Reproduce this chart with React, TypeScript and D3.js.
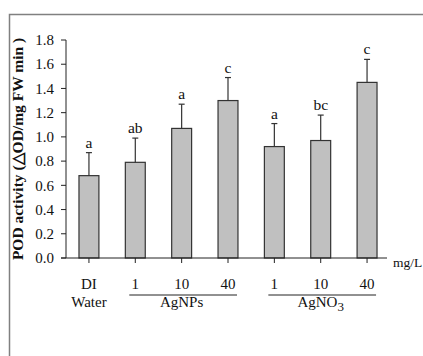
import * as d3 from "d3";

// data
const categories = ["DI", "NP1", "NP10", "NP40", "NO1", "NO10", "NO40"];
const tickLabels = ["DI", "1", "10", "40", "1", "10", "40"];
const values = [0.68, 0.79, 1.07, 1.3, 0.92, 0.97, 1.45];
const errors = [0.19, 0.2, 0.2, 0.19, 0.19, 0.21, 0.19];
const letters = ["a", "ab", "a", "c", "a", "bc", "c"];
const yTicks = [0, 0.2, 0.4, 0.6, 0.8, 1.0, 1.2, 1.4, 1.6, 1.8];

const font = "'Liberation Serif', 'Times New Roman', serif";

const App = () => {
  const width = 423;
  const height = 356;
  const left = 66;
  const right = 390;
  const top = 40;
  const bottom = 258;

  const x = d3.scaleBand().domain(categories).range([left, right]).paddingInner(0.57).paddingOuter(0.28);
  const y = d3.scaleLinear().domain([0, 1.8]).range([bottom, top]);
  const bw = x.bandwidth();
  const cx = (c: string) => (x(c) as number) + bw / 2;

  const groups = [
    { name: "AgNPs", items: ["NP1", "NP10", "NP40"] },
    { name: "AgNO", sub: "3", items: ["NO1", "NO10", "NO40"] },
  ];

  return (
    <svg width={width} height={height} style={{ position: "absolute", left: 0, top: 0 }}>
      <rect width={width} height={height} fill="white" />
      {/* frame */}
      <path d={`M9.5,${height} V14.5 H${width}`} fill="none" stroke="#808080" strokeWidth={1.5} />

      {/* y axis */}
      <line x1={left} x2={left} y1={y(1.8)} y2={bottom} stroke="#222" />
      {yTicks.map((t) => (
        <g key={t} transform={`translate(0,${y(t)})`}>
          <line x1={left - 5} x2={left} stroke="#222" />
          <text x={left - 12} dy="0.35em" textAnchor="end" fontFamily={font} fontSize={15} fill="#111">
            {d3.format(".1f")(t)}
          </text>
        </g>
      ))}
      <text
        transform={`translate(23,${(top + bottom) / 2 + 0}) rotate(-90)`}
        textAnchor="middle"
        fontFamily={font}
        fontSize={15.5}
        fontWeight="bold"
        fill="#111"
      >
        POD activity (△OD/mg FW min )
      </text>

      {/* bars */}
      {categories.map((c, i) => (
        <g key={c}>
          <rect x={x(c)} y={y(values[i])} width={bw} height={bottom - y(values[i])} fill="#c0c0c0" stroke="#333" strokeWidth={1.2} />
          <line x1={cx(c)} x2={cx(c)} y1={y(values[i])} y2={y(values[i] + errors[i])} stroke="#333" strokeWidth={1.2} />
          <line x1={cx(c) - 3} x2={cx(c) + 3} y1={y(values[i] + errors[i])} y2={y(values[i] + errors[i])} stroke="#333" strokeWidth={1.2} />
          <text x={cx(c)} y={y(values[i] + errors[i]) - 5} textAnchor="middle" fontFamily={font} fontSize={15.5} fill="#111">
            {letters[i]}
          </text>
        </g>
      ))}

      {/* x axis */}
      <line x1={left - 5} x2={387} y1={bottom} y2={bottom} stroke="#222" />
      {categories.map((c, i) => (
        <g key={c}>
          <line x1={cx(c)} x2={cx(c)} y1={bottom} y2={bottom + 5} stroke="#222" />
          <text x={cx(c)} y={bottom + 31} textAnchor="middle" fontFamily={font} fontSize={15} fill="#111">
            {tickLabels[i]}
          </text>
        </g>
      ))}
      <text x={cx("DI")} y={bottom + 49} textAnchor="middle" fontFamily={font} fontSize={15} fill="#111">
        Water
      </text>
      {groups.map((g) => {
        const x0 = cx(g.items[0]) - 6;
        const x1 = cx(g.items[2]) + 9;
        const mid = cx(g.items[1]);
        return (
          <g key={g.name}>
            <line x1={x0} x2={x1} y1={bottom + 37} y2={bottom + 37} stroke="#222" />
            <text x={mid} y={bottom + 49} textAnchor="middle" fontFamily={font} fontSize={15} fill="#111">
              {g.name}
              {g.sub && (
                <tspan dy="4" fontSize={13}>
                  {g.sub}
                </tspan>
              )}
            </text>
          </g>
        );
      })}
      <text x={393} y={bottom + 9} fontFamily={font} fontSize={13.5} fill="#111">
        mg/L
      </text>
    </svg>
  );
};

export default App;
